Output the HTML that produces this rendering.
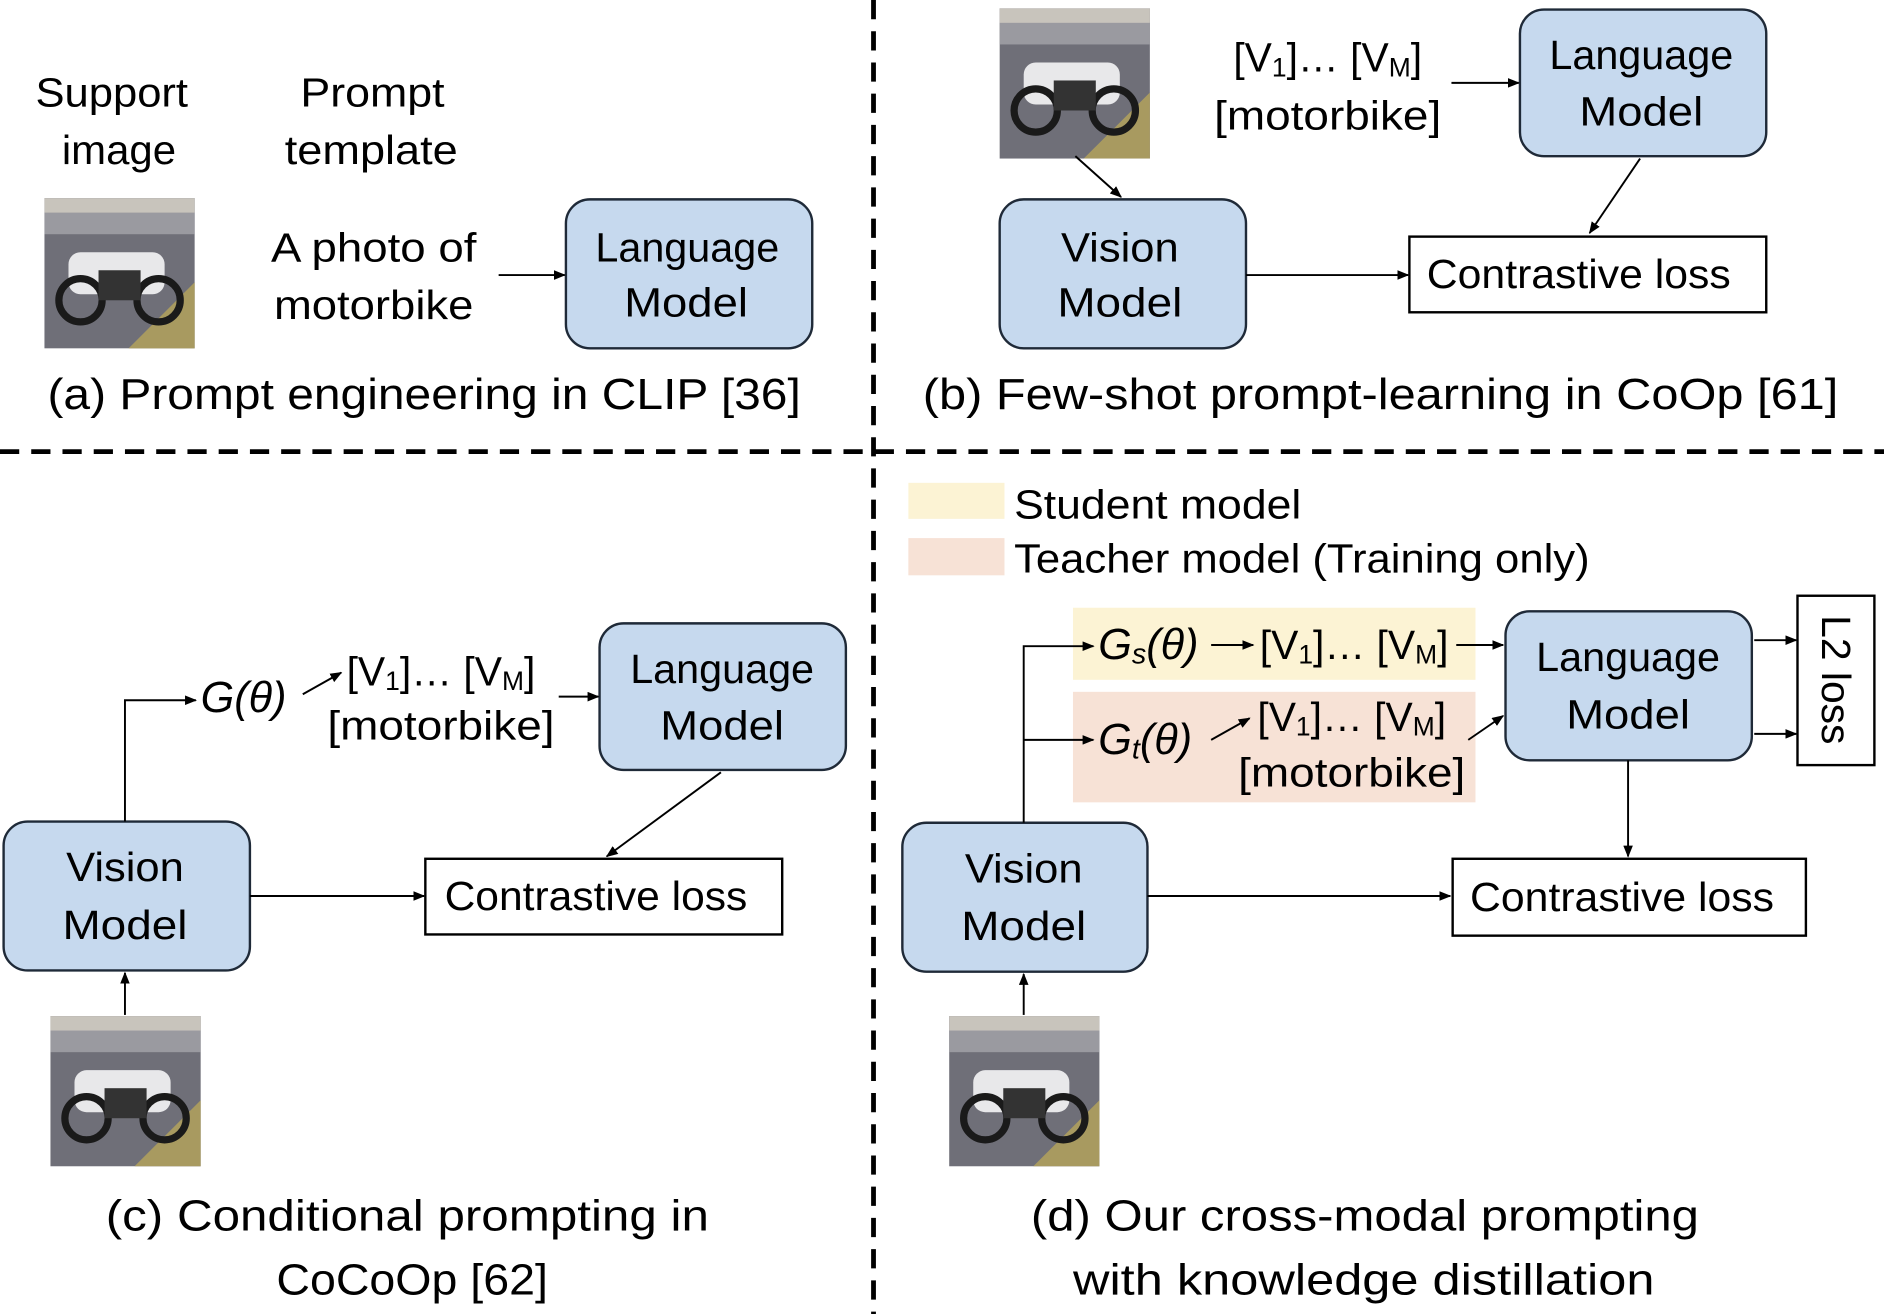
<!DOCTYPE html>
<html><head><meta charset="utf-8"><style>
html,body{margin:0;padding:0;background:#fff;}
svg{display:block;}
text{font-family:"Liberation Sans",sans-serif;fill:#000;}
.b{font-size:34px;}
.cap{font-size:36px;}
.m{font-family:"Liberation Serif",serif;font-style:italic;font-size:36px;}
</style></head><body>
<svg width="1884" height="1314" viewBox="0 0 1568 1094" preserveAspectRatio="none" xmlns="http://www.w3.org/2000/svg">
<defs>
<marker id="a" markerWidth="10" markerHeight="8" refX="9" refY="4" orient="auto" markerUnits="userSpaceOnUse"><path d="M0,0 L10,4 L0,8 z" fill="#000"/></marker>
<g id="photo">
<rect width="125" height="125" fill="#6f6f78"/>
<rect width="125" height="30" fill="#9a9aa0"/>
<rect x="0" y="0" width="125" height="12" fill="#c8c4bc"/>
<path d="M70,125 L125,70 L125,125 z" fill="#a89a60"/>
<rect x="20" y="45" width="80" height="35" rx="10" fill="#e8e8ea"/>
<circle cx="30" cy="85" r="18" fill="none" stroke="#1a1a1a" stroke-width="6"/>
<circle cx="95" cy="85" r="18" fill="none" stroke="#1a1a1a" stroke-width="6"/>
<rect x="45" y="60" width="35" height="25" fill="#333"/>
</g>
</defs>
<g stroke="#000" stroke-width="4" stroke-dasharray="16,10" fill="none">
<line x1="727" y1="0" x2="727" y2="1094"/>
<line x1="0" y1="376" x2="1568" y2="376"/>
</g>
<g fill="#c6d9ee" stroke="#1f2a38" stroke-width="2">
<rect x="471" y="166" width="205" height="124" rx="20"/>
<rect x="1265" y="8" width="205" height="122" rx="20"/>
<rect x="832" y="166" width="205" height="124" rx="20"/>
<rect x="3" y="684" width="205" height="124" rx="20"/>
<rect x="499" y="519" width="205" height="122" rx="20"/>
<rect x="751" y="685" width="204" height="124" rx="20"/>
<rect x="1253" y="509" width="205" height="124" rx="20"/>
</g>
<g fill="#fff" stroke="#000" stroke-width="2">
<rect x="1173" y="197" width="297" height="63"/>
<rect x="354" y="715" width="297" height="63"/>
<rect x="1209" y="715" width="294" height="64"/>
<rect x="1496" y="496" width="64" height="141"/>
</g>
<rect x="756" y="402" width="80" height="30" fill="#fcf3d4"/>
<rect x="756" y="448" width="80" height="31" fill="#f7e2d6"/>
<rect x="893" y="506" width="335" height="60" fill="#fcf3d4"/>
<rect x="893" y="576" width="335" height="92" fill="#f7e2d6"/>
<use href="#photo" x="37" y="165"/>
<use href="#photo" x="832" y="7"/>
<use href="#photo" x="42" y="846"/>
<use href="#photo" x="790" y="846"/>
<g stroke="#000" stroke-width="1.6" fill="none" marker-end="url(#a)">
<line x1="415" y1="229" x2="470" y2="229"/>
<line x1="1208" y1="69" x2="1264" y2="69"/>
<line x1="1365" y1="132" x2="1323" y2="194"/>
<line x1="895" y1="130" x2="933" y2="164"/>
<line x1="1037" y1="229" x2="1172" y2="229"/>
<line x1="104" y1="845" x2="104" y2="810"/>
<polyline points="104,684 104,583 163,583"/>
<line x1="252" y1="578" x2="284" y2="560"/>
<line x1="465" y1="580" x2="498" y2="580"/>
<line x1="600" y1="643" x2="505" y2="713"/>
<line x1="208" y1="746" x2="353" y2="746"/>
<line x1="852" y1="845" x2="852" y2="811"/>
<polyline points="852,685 852,538 910,538"/>
<line x1="852" y1="616" x2="910" y2="616"/>
<line x1="1008" y1="537" x2="1043" y2="537"/>
<line x1="1212" y1="537" x2="1251" y2="537"/>
<line x1="1008" y1="616" x2="1040" y2="598"/>
<line x1="1222" y1="616" x2="1251" y2="596"/>
<line x1="1460" y1="533" x2="1495" y2="533"/>
<line x1="1460" y1="611" x2="1495" y2="611"/>
<line x1="1355" y1="633" x2="1355" y2="713"/>
<line x1="955" y1="746" x2="1207" y2="746"/>
</g>
<g class="b" text-anchor="middle" dominant-baseline="central" lengthAdjust="spacingAndGlyphs">
<text x="93" y="77" textLength="127" lengthAdjust="spacingAndGlyphs">Support</text><text x="99" y="125" textLength="95" lengthAdjust="spacingAndGlyphs">image</text>
<text x="310" y="77" textLength="120" lengthAdjust="spacingAndGlyphs">Prompt</text><text x="309" y="125" textLength="144" lengthAdjust="spacingAndGlyphs">template</text>
<text x="311" y="206" textLength="171" lengthAdjust="spacingAndGlyphs">A photo of</text><text x="311" y="254" textLength="166" lengthAdjust="spacingAndGlyphs">motorbike</text>
<text x="572" y="206" textLength="153" lengthAdjust="spacingAndGlyphs">Language</text><text x="571" y="252" textLength="103" lengthAdjust="spacingAndGlyphs">Model</text>
<text x="1366" y="46" textLength="153" lengthAdjust="spacingAndGlyphs">Language</text><text x="1366" y="93" textLength="103" lengthAdjust="spacingAndGlyphs">Model</text>
<text x="932" y="206" textLength="98" lengthAdjust="spacingAndGlyphs">Vision</text><text x="932" y="252" textLength="104" lengthAdjust="spacingAndGlyphs">Model</text>
<text x="1314" y="228" textLength="253" lengthAdjust="spacingAndGlyphs">Contrastive loss</text>
<text x="1105" y="48">[V<tspan font-size="22" dy="8">1</tspan><tspan dy="-8">]… [V</tspan><tspan font-size="22" dy="8">M</tspan><tspan dy="-8">]</tspan></text>
<text x="1105" y="96" textLength="189" lengthAdjust="spacingAndGlyphs">[motorbike]</text>
<text x="104" y="722" textLength="98" lengthAdjust="spacingAndGlyphs">Vision</text><text x="104" y="770" textLength="104" lengthAdjust="spacingAndGlyphs">Model</text>
<text x="601" y="557" textLength="153" lengthAdjust="spacingAndGlyphs">Language</text><text x="601" y="604" textLength="103" lengthAdjust="spacingAndGlyphs">Model</text>
<text x="496" y="746" textLength="252" lengthAdjust="spacingAndGlyphs">Contrastive loss</text>
<text x="367" y="559">[V<tspan font-size="22" dy="8">1</tspan><tspan dy="-8">]… [V</tspan><tspan font-size="22" dy="8">M</tspan><tspan dy="-8">]</tspan></text>
<text x="367" y="604" textLength="189" lengthAdjust="spacingAndGlyphs">[motorbike]</text>
<text x="852" y="723" textLength="98" lengthAdjust="spacingAndGlyphs">Vision</text><text x="852" y="771" textLength="104" lengthAdjust="spacingAndGlyphs">Model</text>
<text x="1355" y="547" textLength="153" lengthAdjust="spacingAndGlyphs">Language</text><text x="1355" y="595" textLength="103" lengthAdjust="spacingAndGlyphs">Model</text>
<text x="1350" y="747" textLength="253" lengthAdjust="spacingAndGlyphs">Contrastive loss</text>
<text x="1127" y="537">[V<tspan font-size="22" dy="8">1</tspan><tspan dy="-8">]… [V</tspan><tspan font-size="22" dy="8">M</tspan><tspan dy="-8">]</tspan></text>
<text x="1125" y="597">[V<tspan font-size="22" dy="8">1</tspan><tspan dy="-8">]… [V</tspan><tspan font-size="22" dy="8">M</tspan><tspan dy="-8">]</tspan></text>
<text x="1125" y="643" textLength="189" lengthAdjust="spacingAndGlyphs">[motorbike]</text>
<text x="1528" y="566" transform="rotate(90 1528 566)">L2 loss</text>
</g>
<g class="b" dominant-baseline="central">
<text x="844" y="420" textLength="239" lengthAdjust="spacingAndGlyphs">Student model</text>
<text x="844" y="465" textLength="479" lengthAdjust="spacingAndGlyphs">Teacher model (Training only)</text>
</g>
<g class="m" dominant-baseline="central">
<text x="167" y="581">G(θ)</text>
<text x="914" y="537">G<tspan font-size="24" dy="8">s</tspan><tspan dy="-8">(θ)</tspan></text>
<text x="914" y="616">G<tspan font-size="24" dy="8">t</tspan><tspan dy="-8">(θ)</tspan></text>
</g>
<g class="cap" text-anchor="middle" dominant-baseline="central">
<text x="353" y="329" textLength="627" lengthAdjust="spacingAndGlyphs">(a) Prompt engineering in CLIP [36]</text>
<text x="1149" y="329" textLength="762" lengthAdjust="spacingAndGlyphs">(b) Few-shot prompt-learning in CoOp [61]</text>
<text x="339" y="1013" textLength="502" lengthAdjust="spacingAndGlyphs">(c) Conditional prompting in</text>
<text x="343" y="1066" textLength="226" lengthAdjust="spacingAndGlyphs">CoCoOp [62]</text>
<text x="1136" y="1013" textLength="556" lengthAdjust="spacingAndGlyphs">(d) Our cross-modal prompting</text>
<text x="1135" y="1066" textLength="484" lengthAdjust="spacingAndGlyphs">with knowledge distillation</text>
</g>
</svg>
</body></html>
